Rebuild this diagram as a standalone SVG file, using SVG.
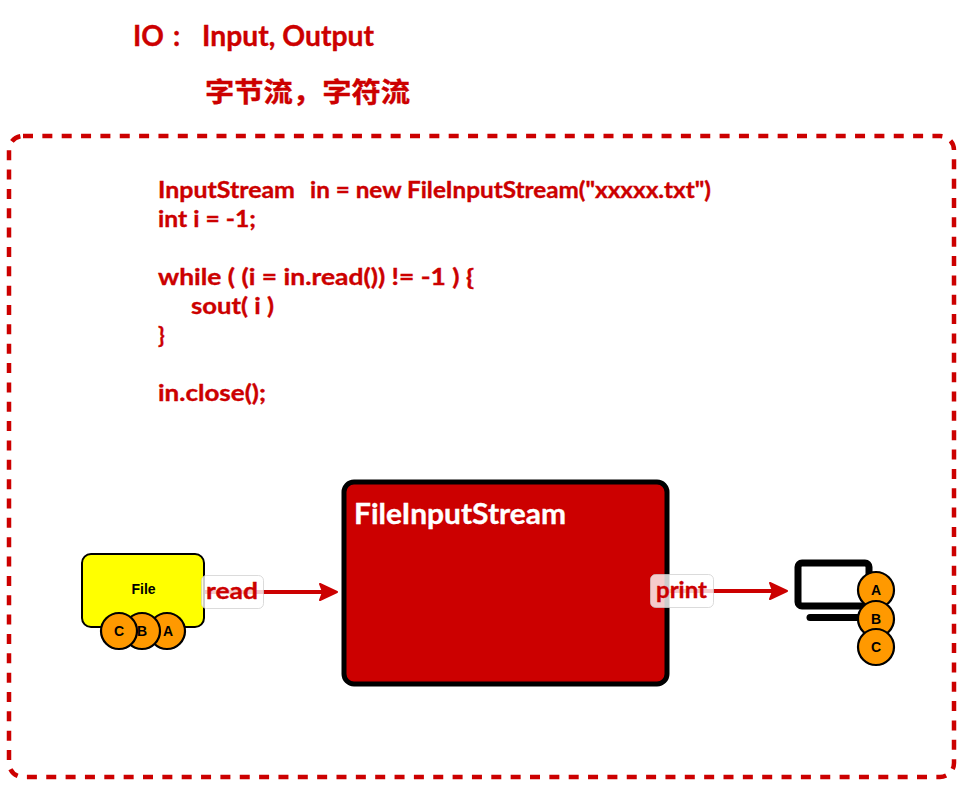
<svg xmlns="http://www.w3.org/2000/svg" width="968" height="797" viewBox="0 0 968 797">
<style>
text{font-family:"Lato","Noto Sans CJK SC",sans-serif;font-weight:700;white-space:pre}
.r{fill:#cc0000;stroke:#cc0000;stroke-width:.35}
.c{font-size:22px}
.k{fill:#ff9900;stroke:#000;stroke-width:2.2}
.l{font-family:"Liberation Sans",sans-serif;font-size:14px;fill:#000;text-anchor:middle}
.line{fill:none;stroke:#cc0000;stroke-width:4}
.head{fill:#cc0000;stroke:#cc0000;stroke-width:2;stroke-linejoin:round}
.lab{fill:#fff;fill-opacity:.8;stroke:#ccc;stroke-opacity:.7;stroke-width:1}
.lt{font-size:23px;fill:#cc0000;stroke:#cc0000;stroke-width:.35}
</style>
<g id="title">
<text class="r" y="46" style="font-size:28px"><tspan x="133">IO</tspan><tspan x="173">:</tspan></text>
<text class="r" x="202" y="46" style="font-size:28px" textLength="172" lengthAdjust="spacingAndGlyphs">Input, Output</text>
<text class="r" x="205" y="102" style="font-size:27px" textLength="205" lengthAdjust="spacingAndGlyphs">字节流，字符流</text>
</g>
<g id="frame"><rect x="9" y="136" width="945" height="641" rx="14" fill="none" stroke="#cc0000" stroke-width="4.500" stroke-dasharray="10 9.350"/></g>
<g id="code">
<text class="r c" x="158" y="198" textLength="137" lengthAdjust="spacingAndGlyphs">InputStream</text>
<text class="r c" x="310" y="198" textLength="401" lengthAdjust="spacingAndGlyphs">in = new FileInputStream("xxxxx.txt")</text>
<text class="r c" x="158" y="227" textLength="98" lengthAdjust="spacingAndGlyphs">int i = -1;</text>
<text class="r c" x="158" y="285" textLength="316" lengthAdjust="spacingAndGlyphs">while ( (i = in.read()) != -1 ) {</text>
<text class="r c" x="191" y="314" textLength="83" lengthAdjust="spacingAndGlyphs">sout( i )</text>
<text class="r c" x="158" y="343">}</text>
<text class="r c" x="158" y="401" textLength="108" lengthAdjust="spacingAndGlyphs">in.close();</text>
</g>
<g id="connectors">
<path class="line" d="M204 592H330"/>
<path class="head" d="M320 584L337 592L320 600L323 592Z"/>
<path class="line" d="M667 591H780"/>
<path class="head" d="M770 583L787 591L770 599L773 591Z"/>
</g>
<g id="stream">
<rect x="344" y="482" width="323" height="202" rx="10" fill="#cc0000" stroke="#000" stroke-width="5"/>
<text x="354" y="524" fill="#fff" stroke="#fff" stroke-width=".35" style="font-size:28px" textLength="212" lengthAdjust="spacingAndGlyphs">FileInputStream</text>
</g>
<g id="file">
<rect x="82" y="554" width="122" height="73" rx="9" fill="#ffff00" stroke="#000" stroke-width="2"/>
<text class="l" x="143.500" y="594">File</text>
<circle class="k" cx="167" cy="631" r="18"/><text class="l" x="168" y="636">A</text>
<circle class="k" cx="142" cy="631" r="18"/><text class="l" x="142" y="636">B</text>
<circle class="k" cx="119" cy="631" r="18"/><text class="l" x="119" y="636">C</text>
</g>
<g id="read-label">
<rect class="lab" x="201.500" y="575.500" width="62" height="33" rx="5"/>
<text class="lt" x="206" y="599" textLength="52" lengthAdjust="spacingAndGlyphs">read</text>
</g>
<g id="print-label">
<rect class="lab" x="650.500" y="574.500" width="63" height="33" rx="5"/>
<text class="lt" x="656" y="598" textLength="51" lengthAdjust="spacingAndGlyphs">print</text>
</g>
<g id="monitor">
<rect x="798" y="563" width="71" height="43" rx="4" fill="#fff" stroke="#000" stroke-width="7"/>
<path d="M810 617.500H866" stroke="#000" stroke-width="7" stroke-linecap="round"/>
<circle class="k" cx="876" cy="590" r="18"/><text class="l" x="876" y="595">A</text>
<circle class="k" cx="876" cy="619" r="18"/><text class="l" x="876" y="624">B</text>
<circle class="k" cx="876" cy="647" r="18"/><text class="l" x="876" y="652">C</text>
</g>
</svg>
